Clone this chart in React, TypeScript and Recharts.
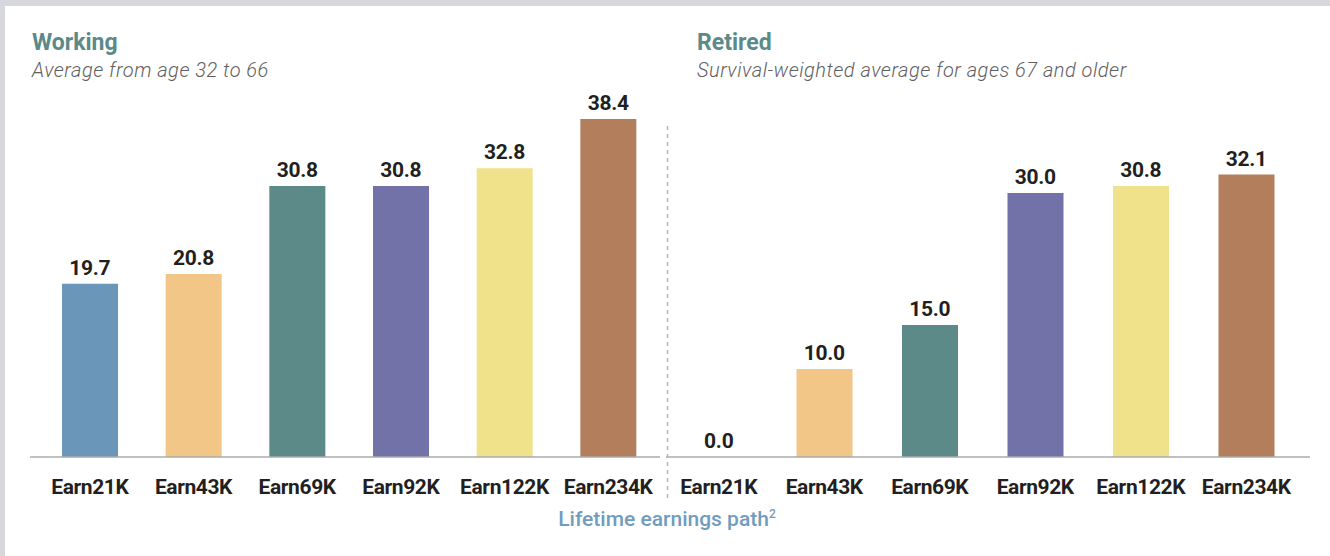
import React from "react";
import { ComposedChart, Bar, Line, XAxis, YAxis, Cell, LabelList } from "recharts";

const categories = ["Earn21K", "Earn43K", "Earn69K", "Earn92K", "Earn122K", "Earn234K"];
const workingValues = [19.7, 20.8, 30.8, 30.8, 32.8, 38.4];
const retiredValues = [0.0, 10.0, 15.0, 30.0, 30.8, 32.1];
const barColors = ["#6a97b9", "#f2c686", "#5b8a89", "#7272a8", "#f0e28a", "#b37e5b"];

const workingData = categories.map((name, i) => ({ name, value: workingValues[i] }));
const retiredData = categories.map((name, i) => ({ name, value: retiredValues[i] }));

const FONT = "Roboto, 'Liberation Sans', Arial, sans-serif";

// value label above each bar, placed from an invisible line so the 0.0 bar gets one too
const renderValue = (props: any) => {
  const { x, y, value } = props;
  return (
    <text
      x={Number(x)}
      y={Number(y) - 9}
      textAnchor="middle"
      fill="#231f20"
      fontSize={21}
      fontWeight={700}
      fontFamily={FONT}
      letterSpacing={-0.3}
    >
      {Number(value).toFixed(1)}
    </text>
  );
};

function Panel({
  data,
  width,
  padding,
}: {
  data: { name: string; value: number }[];
  width: number;
  padding: { left: number; right: number };
}) {
  return (
    <ComposedChart
      width={width}
      height={500}
      data={data}
      margin={{ top: 105, right: 0, bottom: 0, left: 0 }}
    >
      <XAxis
        dataKey="name"
        interval={0}
        tickLine={false}
        tickMargin={16}
        padding={padding}
        axisLine={{ stroke: "#a9abad", strokeWidth: 1.5 }}
        tick={{ fill: "#231f20", fontSize: 21, fontWeight: 700, fontFamily: FONT, letterSpacing: -0.4 }}
        height={43}
      />
      <YAxis hide domain={[0, 40]} />
      <Bar dataKey="value" barSize={56} isAnimationActive={false}>
        {data.map((_, i) => (
          <Cell key={i} fill={barColors[i]} />
        ))}
      </Bar>
      <Line
        dataKey="value"
        stroke="none"
        dot={false}
        activeDot={false}
        legendType="none"
        isAnimationActive={false}
      >
        <LabelList dataKey="value" content={renderValue} />
      </Line>
    </ComposedChart>
  );
}

const titleStyle: React.CSSProperties = {
  position: "absolute",
  top: 29,
  fontSize: 23,
  fontWeight: 700,
  color: "#5b8a89",
};

const subStyle: React.CSSProperties = {
  position: "absolute",
  top: 58,
  fontSize: 20,
  fontStyle: "italic",
  fontWeight: 300,
  color: "#5f6062",
  letterSpacing: 0.5,
  whiteSpace: "nowrap",
};

export default function App() {
  return (
    <div
      style={{
        position: "absolute",
        left: 0,
        top: 0,
        width: 1330,
        height: 556,
        background: "#fff",
        overflow: "hidden",
        fontFamily: FONT,
      }}
    >
      <div style={{ position: "absolute", left: 0, top: 0, width: 1330, height: 6, background: "#d6d8dd" }} />
      <div style={{ position: "absolute", left: 0, top: 0, width: 5, height: 556, background: "#d6d8dd" }} />

      <div style={{ ...titleStyle, left: 32 }}>Working</div>
      <div style={{ ...subStyle, left: 32 }}>Average from age 32 to 66</div>

      <div style={{ ...titleStyle, left: 697 }}>Retired</div>
      <div style={{ ...subStyle, left: 697 }}>Survival-weighted average for ages 67 and older</div>

      <div style={{ position: "absolute", left: 30, top: 0 }}>
        <Panel data={workingData} width={630} padding={{ left: 8, right: 0 }} />
      </div>
      <div style={{ position: "absolute", left: 666, top: 0 }}>
        <Panel data={retiredData} width={644} padding={{ left: 0, right: 11 }} />
      </div>

      <svg style={{ position: "absolute", left: 666, top: 126 }} width={4} height={374}>
        <line x1={1.5} y1={0} x2={1.5} y2={372} stroke="#b5b6b8" strokeWidth={1.5} strokeDasharray="4 4" />
      </svg>

      <div
        style={{
          position: "absolute",
          left: 0,
          width: 1334,
          top: 507,
          textAlign: "center",
          fontSize: 21,
          fontWeight: 500,
          color: "#6f9cc0",
        }}
      >
        Lifetime earnings path<sup style={{ fontSize: 12, verticalAlign: "8px" }}>2</sup>
      </div>
    </div>
  );
}
